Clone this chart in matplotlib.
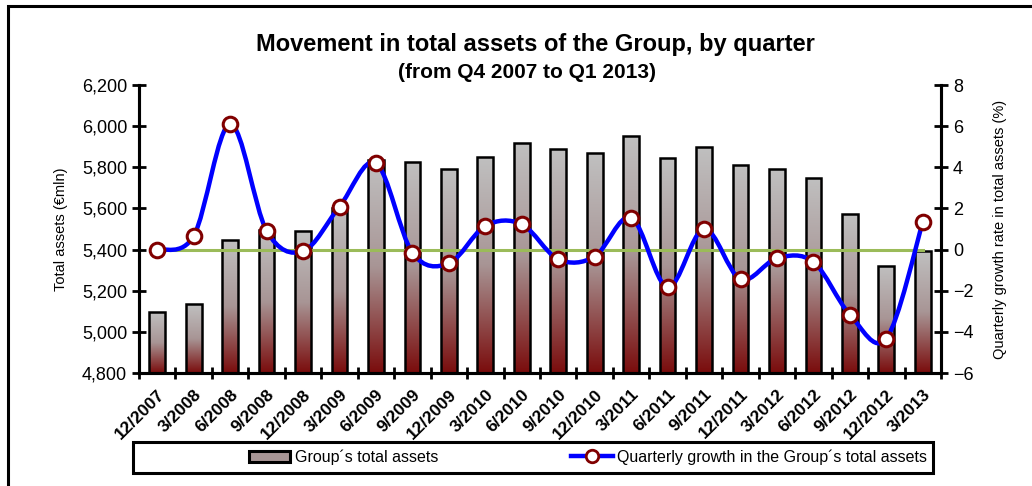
import numpy as np
import matplotlib
matplotlib.use("Agg")
import matplotlib.pyplot as plt
from matplotlib.colors import LinearSegmentedColormap
from matplotlib.path import Path
from matplotlib.patches import PathPatch, Rectangle, Patch
from matplotlib.lines import Line2D

plt.rcParams['font.family'] = ['Liberation Sans', 'DejaVu Sans']

# quarter labels
quarters = ['12/2007', '3/2008', '6/2008', '9/2008', '12/2008', '3/2009', '6/2009',
            '9/2009', '12/2009', '3/2010', '6/2010', '9/2010', '12/2010', '3/2011',
            '6/2011', '9/2011', '12/2011', '3/2012', '6/2012', '9/2012', '12/2012',
            '3/2013']
# total assets, EUR mln
total_assets = [5095, 5134, 5445, 5495, 5490, 5600, 5835, 5827, 5790, 5851, 5920,
                5890, 5868, 5952, 5845, 5900, 5813, 5790, 5749, 5571, 5322, 5392]
# quarterly growth rate, %
growth = [0.0, 0.66, 6.1, 0.92, -0.08, 2.09, 4.2, -0.15, -0.67, 1.15, 1.23,
          -0.47, -0.34, 1.55, -1.83, 1.0, -1.44, -0.42, -0.6, -3.16, -4.33, 1.33]

W, H = 1032, 486
fig = plt.figure(figsize=(W / 100, H / 100), dpi=100)
ax = fig.add_axes([139 / W, 1 - 373 / H, (941 - 139) / W, (373 - 85) / H])
ax2 = ax.twinx()

x = np.arange(len(quarters))
bw = 0.43
cmap = LinearSegmentedColormap.from_list('grad', ['#7a0c0c', '#a89595', '#c0c0c0'])
grad = np.linspace(0, 1, 256).reshape(-1, 1)

bars = ax.bar(x, np.array(total_assets) - 4800, bw, bottom=4800, facecolor='none',
              edgecolor='black', linewidth=1.8, zorder=3)
for b in bars:
    x0, y0 = b.get_x(), b.get_y()
    im = ax.imshow(grad, extent=[x0, x0 + b.get_width(), y0, y0 + b.get_height()],
                   origin='lower', aspect='auto', cmap=cmap, zorder=2)
    im.set_clip_path(b)

ax.set_xlim(-0.5, len(quarters) - 0.5)
ax.set_ylim(4800, 6200)
ax.set_yticks(np.arange(4800, 6201, 200))
ax.set_yticklabels([f'{v:,}' for v in range(4800, 6201, 200)])
ax.set_xticks(x)
ax.set_xticklabels(quarters, rotation=45, ha='right', rotation_mode='anchor',
                   fontweight='bold', fontsize=12.5)
ax.set_xticks(np.arange(-0.5, len(quarters)), minor=True)
ax.tick_params(axis='x', which='major', length=0, pad=10)
ax.tick_params(axis='x', which='minor', direction='inout', length=9, width=2)
ax.tick_params(axis='y', direction='inout', length=10, width=2, labelsize=13)
ax.set_ylabel('Total assets (€mln)', fontsize=10.5, labelpad=10)

for s in ['top']:
    ax.spines[s].set_visible(False)
    ax2.spines[s].set_visible(False)
for a in (ax, ax2):
    a.spines['left'].set_linewidth(2.2)
    a.spines['right'].set_linewidth(2.2)
    a.spines['bottom'].set_linewidth(2.2)
ax.set_zorder(1)
ax2.set_zorder(2)
ax.patch.set_visible(False)

ax2.set_ylim(-6, 8)
ax2.set_yticks(np.arange(-6, 9, 2))
ax2.tick_params(axis='y', direction='inout', length=10, width=2, labelsize=13)
ax2.set_ylabel('Quarterly growth rate in total assets (%)', fontsize=10.5, labelpad=14)

# zero line
ax2.plot([x[0], x[-1]], [0, 0], color='#9bbb59', lw=2.2, zorder=2)

# smoothed growth line (cubic bezier through the points)
g = np.array(growth, dtype=float)
pts = np.column_stack([x, g])
verts = [pts[0]]
codes = [Path.MOVETO]
n = len(pts)
for i in range(n - 1):
    p0 = pts[max(i - 1, 0)]
    p1 = pts[i]
    p2 = pts[i + 1]
    p3 = pts[min(i + 2, n - 1)]
    c1 = p1 + (p2 - p0) / 6
    c2 = p2 - (p3 - p1) / 6
    verts += [c1, c2, p2]
    codes += [Path.CURVE4] * 3
ax2.add_patch(PathPatch(Path(verts, codes), facecolor='none', edgecolor='#0000ff',
                        lw=3.2, zorder=3))
ax2.plot(x, g, ls='none', marker='o', ms=10.5, mfc='white', mec='#800000', mew=2.2,
         zorder=4)

fig.text(535 / W, 1 - 45 / H, 'Movement in total assets of the Group, by quarter',
         ha='center', va='center', fontsize=17, fontweight='bold')
fig.text(527 / W, 1 - 72 / H, '(from Q4 2007 to Q1 2013)',
         ha='center', va='center', fontsize=15, fontweight='bold')

handles = [Patch(facecolor='#a89595', edgecolor='black', lw=2.2),
           Line2D([], [], color='#0000ff', lw=3.2, marker='o', ms=9, mfc='white',
                  mec='#800000', mew=2)]
leg = fig.legend(handles, ['Group\u00b4s total assets',
                           'Quarterly growth in the Group\u00b4s total assets'],
                 loc='center', ncol=2, bbox_to_anchor=(588 / W, 1 - 457 / H),
                 fontsize=11.5, frameon=False, borderaxespad=0, borderpad=0,
                 handlelength=2.6, handletextpad=0.3, columnspacing=8.3)

# legend frame
fig.patches.append(Rectangle((133 / W, 1 - 473 / H), 800 / W, 31 / H,
                             transform=fig.transFigure, fill=False,
                             edgecolor='black', lw=2.2))
# outer border
fig.patches.append(Rectangle((8 / W, -0.05), 1.1, 1 - 6 / H + 0.05,
                             transform=fig.transFigure, fill=False,
                             edgecolor='black', lw=2.2))

fig.savefig('out.png', dpi=100)
